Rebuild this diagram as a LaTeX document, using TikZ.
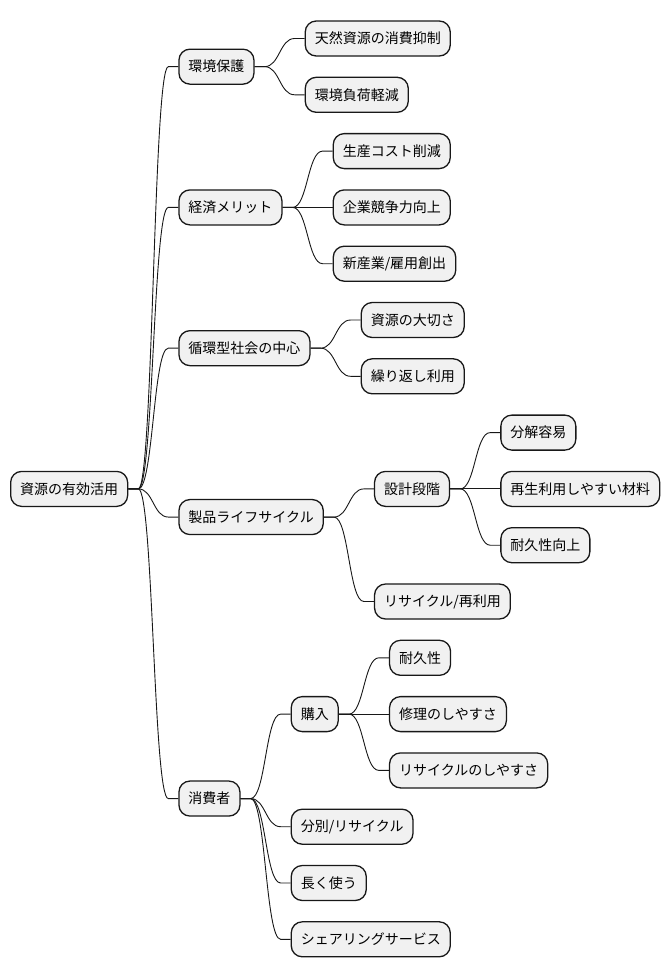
\documentclass[tikz,border=0pt]{standalone}
\usepackage{fontspec}
\newfontfamily\cjk{Noto Sans CJK JP}
\definecolor{boxfill}{HTML}{F1F1F1}
\definecolor{boxline}{HTML}{181818}
\begin{document}
\begin{tikzpicture}[x=1pt,y=-1pt,
  box/.style={draw=boxline, fill=boxfill, line width=1.3pt, rounded corners=11pt,
    minimum height=35pt, inner xsep=9.5pt, inner ysep=0pt, anchor=west,
    font=\cjk\fontsize{14pt}{16pt}\selectfont},
  kid/.style={box, xshift=50pt},
  link/.style={draw=boxline, line width=0.9pt}]
\useasboundingbox[fill=white] (0,0) rectangle (670,978);
\newcommand{\lnk}[2]{\draw[link] (#1.east) -- ++(10pt,0) .. controls +(15pt,0) and +(-15pt,0) .. ([xshift=-10pt]#2.west) -- (#2.west);}
% root
\node[box] (root) at (10,488.9) {資源の有効活用};
% level 1
\node[kid] (a) at (root.east |- 0,66.65) {環境保護};
\node[kid] (b) at (root.east |- 0,207.4) {経済メリット};
\node[kid] (c) at (root.east |- 0,348.15) {循環型社会の中心};
\node[kid] (d) at (root.east |- 0,517.05) {製品ライフサイクル};
\node[kid] (e) at (root.east |- 0,798.55) {消費者};
% level 2
\node[kid] (a1) at (a.east |- 0,38.5) {天然資源の消費抑制};
\node[kid] (a2) at (a.east |- 0,94.8) {環境負荷軽減};
\node[kid] (b1) at (b.east |- 0,151.1) {生産コスト削減};
\node[kid] (b2) at (b.east |- 0,207.4) {企業競争力向上};
\node[kid] (b3) at (b.east |- 0,263.7) {新産業/雇用創出};
\node[kid] (c1) at (c.east |- 0,320.0) {資源の大切さ};
\node[kid] (c2) at (c.east |- 0,376.3) {繰り返し利用};
\node[kid] (d1) at (d.east |- 0,488.9) {設計段階};
\node[kid] (d2) at (d.east |- 0,601.5) {リサイクル/再利用};
\node[kid] (e1) at (e.east |- 0,714.1) {購入};
\node[kid] (e2) at (e.east |- 0,826.7) {分別/リサイクル};
\node[kid] (e3) at (e.east |- 0,883.0) {長く使う};
\node[kid] (e4) at (e.east |- 0,939.3) {シェアリングサービス};
% level 3
\node[kid] (d11) at (d1.east |- 0,432.6) {分解容易};
\node[kid] (d12) at (d1.east |- 0,488.9) {再生利用しやすい材料};
\node[kid] (d13) at (d1.east |- 0,545.2) {耐久性向上};
\node[kid] (e11) at (e1.east |- 0,657.8) {耐久性};
\node[kid] (e12) at (e1.east |- 0,714.1) {修理のしやすさ};
\node[kid] (e13) at (e1.east |- 0,770.4) {リサイクルのしやすさ};
% links
\foreach \p/\c in {root/a,root/b,root/c,root/d,root/e,
  a/a1,a/a2,b/b1,b/b2,b/b3,c/c1,c/c2,d/d1,d/d2,e/e1,e/e2,e/e3,e/e4,
  d1/d11,d1/d12,d1/d13,e1/e11,e1/e12,e1/e13}{\lnk{\p}{\c}}
\end{tikzpicture}
\end{document}
